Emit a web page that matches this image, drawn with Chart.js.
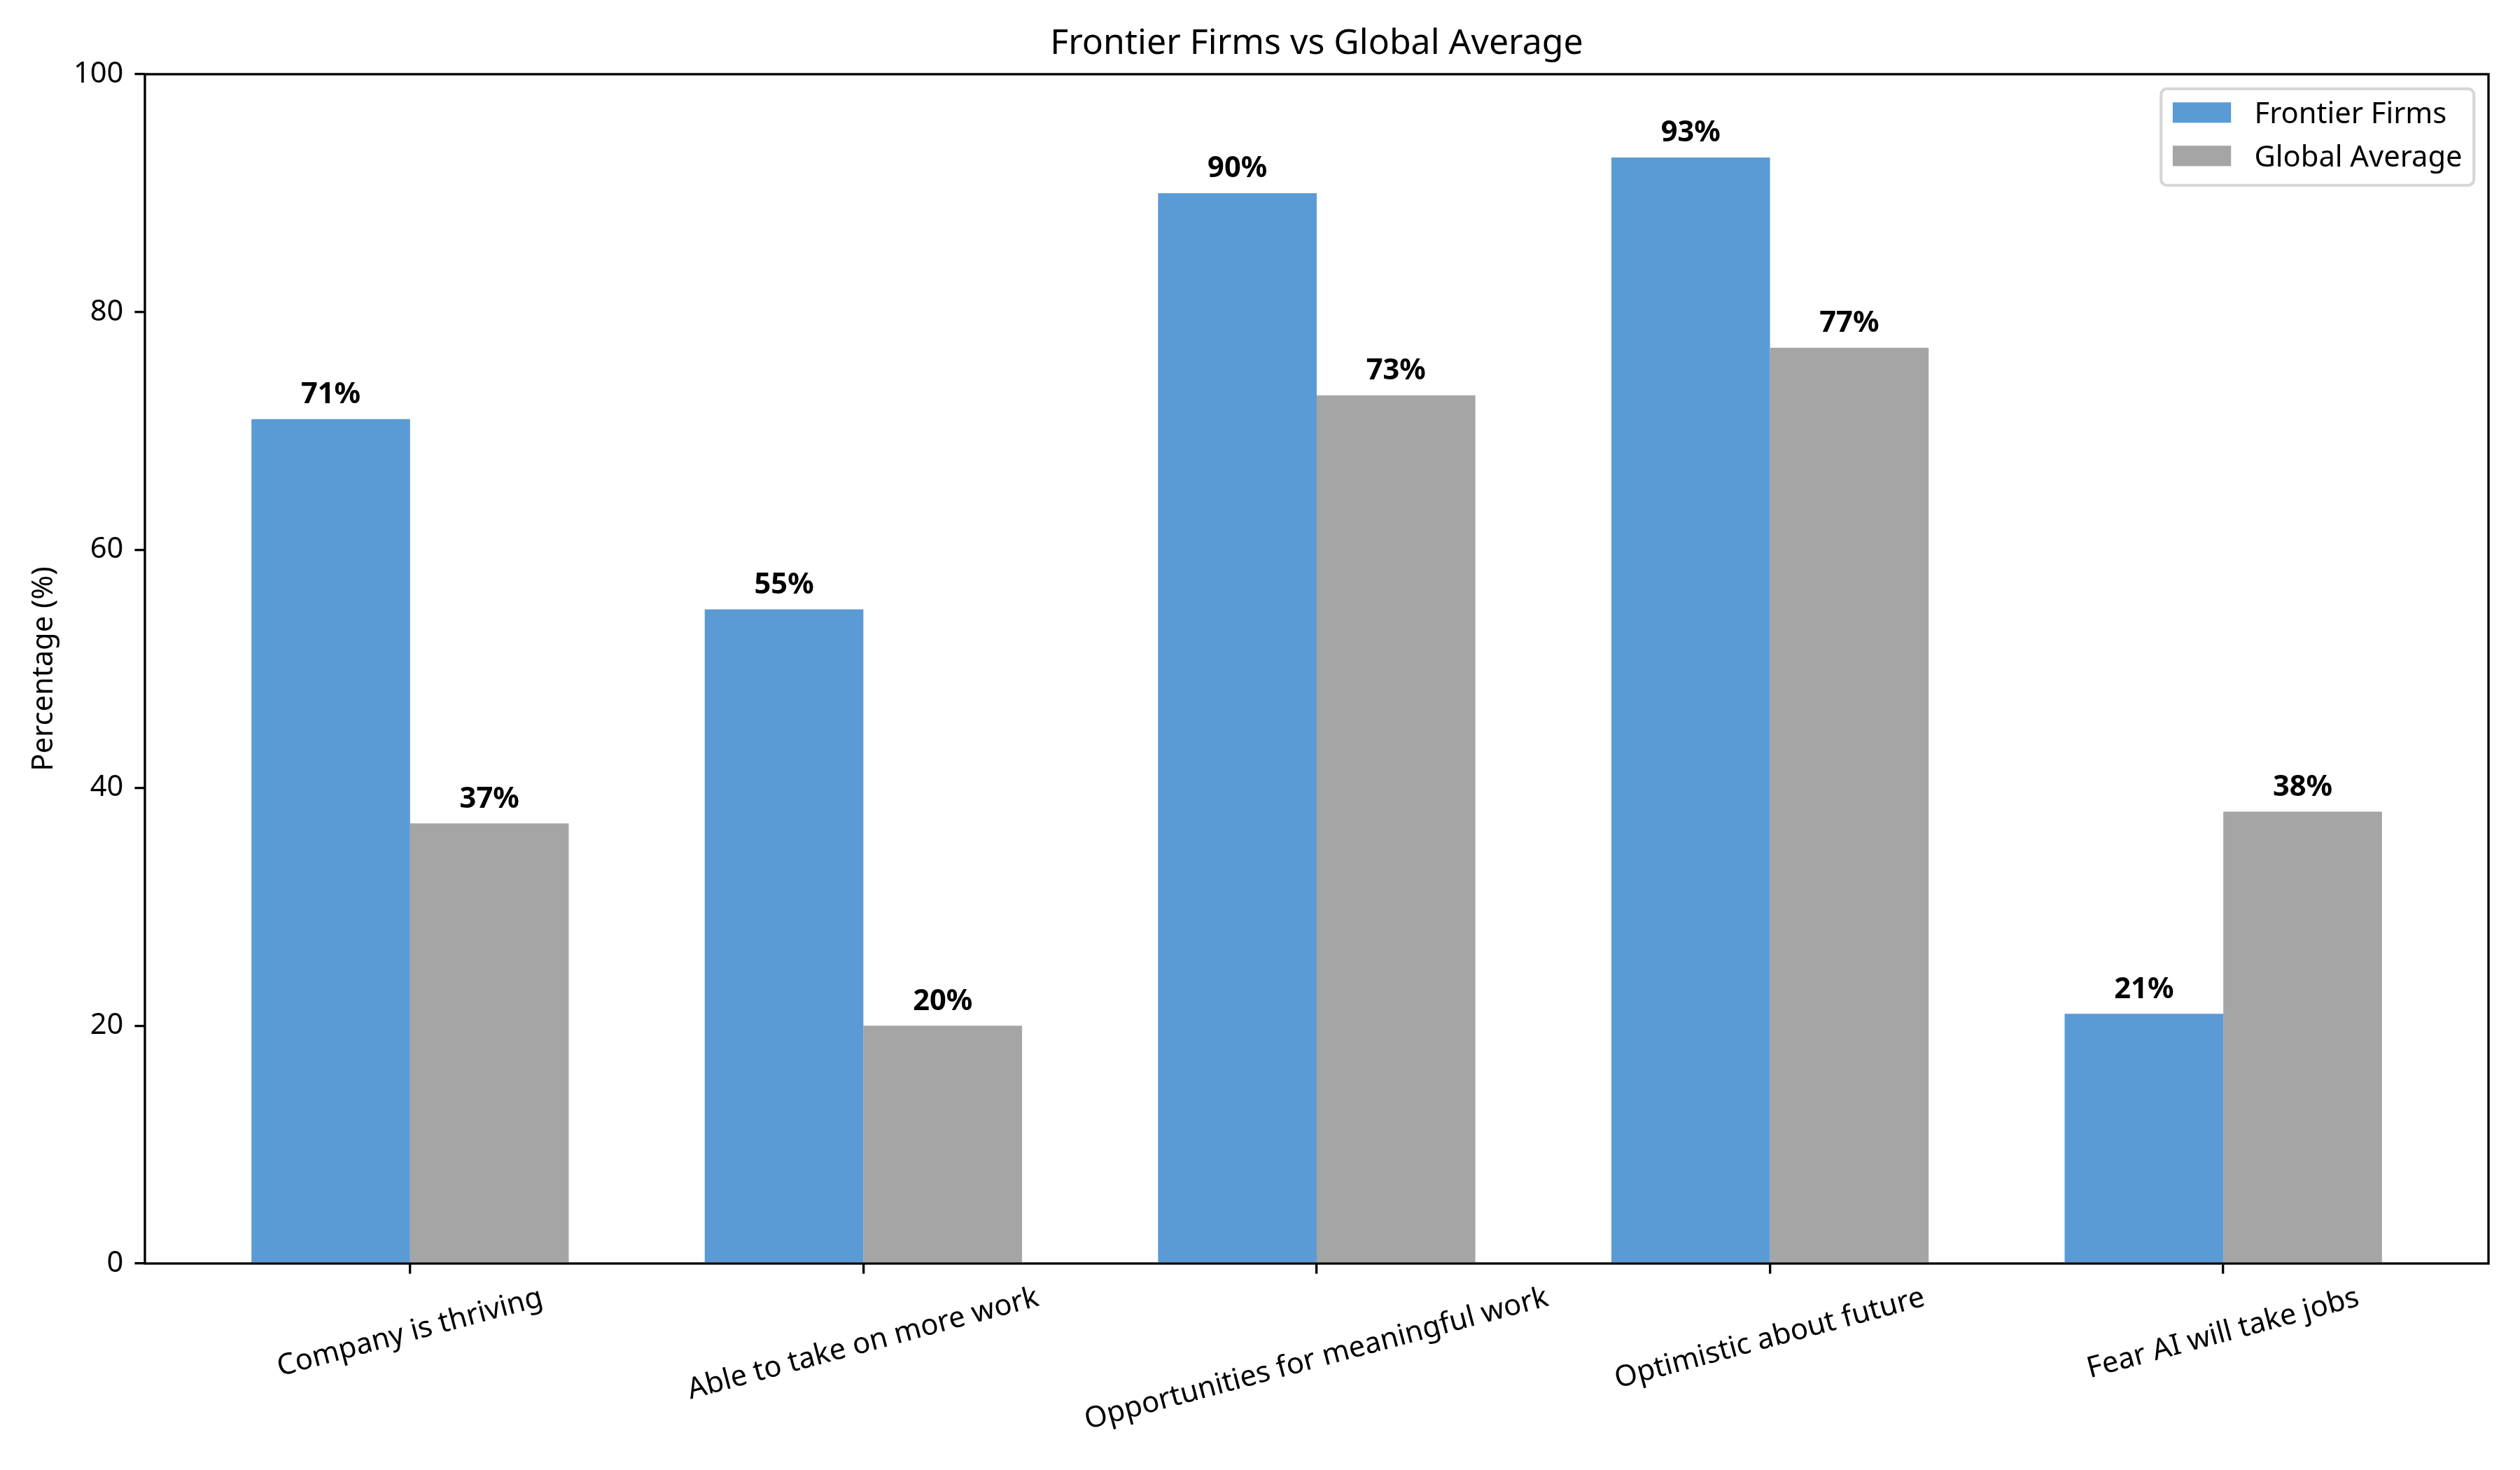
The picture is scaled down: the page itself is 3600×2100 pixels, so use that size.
<!DOCTYPE html>
<html>
<head>
<meta charset="utf-8">
<title>Frontier Firms vs Global Average</title>
<script src="https://cdn.jsdelivr.net/npm/chart.js@4/dist/chart.umd.min.js"></script>
<style>
  html, body { margin:0; padding:0; background:#fff; }
  canvas { display:block; }
</style>
</head>
<body>
<canvas id="chart" width="3600" height="2100"></canvas>
<script>
// Data
const categories = ['Company is thriving', 'Able to take on more work', 'Opportunities for meaningful work', 'Optimistic about future', 'Fear AI will take jobs'];
const frontierFirms = [71, 55, 90, 93, 21];
const globalAverage = [37, 20, 73, 77, 38];
const seriesNames = ['Frontier Firms', 'Global Average'];
const seriesColors = ['#5B9BD5', '#A5A5A5'];
const yTicks = [0, 20, 40, 60, 80, 100];

// Sizes (figure is 300 dpi, so 1pt = 300/72 px)
const PT = 300 / 72;
const fs = 10 * PT;
const FONT = "'Noto Sans', sans-serif";
const W = 3600, H = 2100;
const box = { left: 207, right: 3555, top: 106, bottom: 1805 };

const el = (id) => document.getElementById(id);
const toPoints = (vals) => vals.map((v, i) => ({ x: i, y: v }));

// Labels, frame, rotated ticks and legend drawn on top of the bars
const overlay = {
  id: 'overlay',
  afterDatasetsDraw(chart) {
    const { ctx, chartArea: a, scales: { x } } = chart;
    ctx.save();
    ctx.fillStyle = '#000';

    // value labels
    ctx.font = `bold ${fs}px ${FONT}`;
    ctx.textAlign = 'center';
    ctx.textBaseline = 'alphabetic';
    chart.data.datasets.forEach((ds, di) => {
      chart.getDatasetMeta(di).data.forEach((bar, i) => {
        ctx.fillText(`${ds.data[i].y}%`, bar.x, bar.y - 3 * PT - 0.24 * fs);
      });
    });

    // spines
    ctx.strokeStyle = '#000';
    ctx.lineWidth = 0.8 * PT;
    ctx.strokeRect(a.left, a.top, a.right - a.left, a.bottom - a.top);

    // category labels, rotated 15deg and centred on the tick
    ctx.font = `${fs}px ${FONT}`;
    const rot = 15 * Math.PI / 180, lh = fs, desc = 0.24 * fs;
    const top = a.bottom + 7 * PT;
    x.ticks.forEach(t => {
      const label = categories[t.value];
      const w = ctx.measureText(label).width;
      const bh = w * Math.sin(rot) + lh * Math.cos(rot);
      ctx.save();
      ctx.translate(x.getPixelForValue(t.value), top + bh / 2);
      ctx.rotate(-rot);
      ctx.fillText(label, 0, (lh - 2 * desc) / 2);
      ctx.restore();
    });

    // legend (upper right)
    const names = chart.data.datasets.map(d => d.label);
    const pad = 0.4 * fs, hl = 2 * fs, htp = 0.8 * fs;
    const textW = Math.max(...names.map(n => ctx.measureText(n).width));
    const bw = 2 * pad + hl + htp + textW, bh = 3.31 * fs;
    const bx = a.right - 0.5 * fs - bw, by = a.top + 0.5 * fs;
    ctx.beginPath();
    ctx.roundRect(bx, by, bw, bh, 0.2 * fs);
    ctx.fillStyle = 'rgba(255,255,255,0.8)';
    ctx.fill();
    ctx.strokeStyle = 'rgba(204,204,204,0.8)';
    ctx.lineWidth = 1 * PT;
    ctx.stroke();
    ctx.textAlign = 'left';
    chart.data.datasets.forEach((ds, i) => {
      const cy = by + 0.815 * fs + i * 1.487 * fs;
      ctx.fillStyle = ds.backgroundColor;
      ctx.fillRect(bx + pad, cy - 0.35 * fs, hl, 0.7 * fs);
      ctx.fillStyle = '#000';
      ctx.fillText(ds.label, bx + pad + hl + htp, cy + 0.357 * fs);
    });
    ctx.restore();
  }
};

Chart.defaults.font.family = FONT;
Chart.defaults.color = '#000';

const tickGrid = { offset: false, drawOnChartArea: false, drawTicks: true, tickLength: 3.5 * PT, color: '#000', lineWidth: 0.8 * PT };

new Chart(el('chart'), {
  type: 'bar',
  data: {
    datasets: [
      { label: seriesNames[0], data: toPoints(frontierFirms), backgroundColor: seriesColors[0] },
      { label: seriesNames[1], data: toPoints(globalAverage), backgroundColor: seriesColors[1] },
    ]
  },
  options: {
    responsive: false,
    animation: false,
    devicePixelRatio: 1,
    categoryPercentage: 0.7,
    barPercentage: 1.0,
    layout: { padding: { left: 0, top: 0, right: W - box.right, bottom: 0 } },
    plugins: {
      legend: { display: false },
      tooltip: { enabled: false },
      title: {
        display: true,
        fullSize: false,
        text: 'Frontier Firms vs Global Average',
        font: { size: 12 * PT, weight: 'normal' },
        padding: { top: 33, bottom: box.top - 33 - 12 * PT * 1.2 },
      },
    },
    scales: {
      x: {
        type: 'linear',
        min: -0.585,
        max: categories.length - 1 + 0.585,
        offset: false,
        grid: tickGrid,
        border: { display: false },
        ticks: { display: false },
        afterBuildTicks: (s) => { s.ticks = categories.map((_, i) => ({ value: i })); },
        afterFit: (s) => { s.height = H - box.bottom; },
      },
      y: {
        min: 0,
        max: 100,
        grid: tickGrid,
        border: { display: false },
        ticks: { font: { size: fs }, padding: 16 },
        afterBuildTicks: (s) => { s.ticks = yTicks.map(v => ({ value: v })); },
        afterFit: (s) => { s.width = box.left; },
        title: { display: true, text: 'Percentage (%)', font: { size: fs }, padding: { top: 38, bottom: 0 } },
      },
    },
  },
  plugins: [overlay],
});
</script>
</body>
</html>
